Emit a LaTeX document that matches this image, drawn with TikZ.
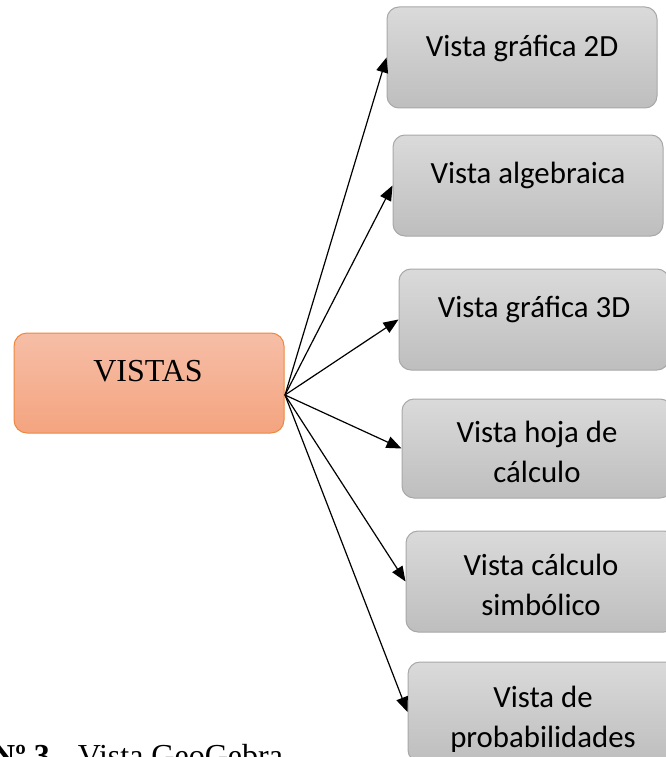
\documentclass[tikz,border=0pt]{standalone}
\usepackage{fontspec}
\setmainfont{Liberation Serif}
\newfontfamily\calib{Carlito}
\usetikzlibrary{arrows.meta}
\definecolor{orTop}{HTML}{F6BEA7}
\definecolor{orBot}{HTML}{F4A47F}
\definecolor{orLine}{HTML}{EE8840}
\definecolor{gTop}{HTML}{DADADA}
\definecolor{gBot}{HTML}{BEBEBE}
\definecolor{gLine}{HTML}{A8A8A8}
\tikzset{
  vbox/.style={draw=orLine, line width=1pt, rounded corners=13pt, top color=orTop, bottom color=orBot,
    minimum width=270pt, minimum height=100pt, inner sep=0pt},
  gbox/.style={draw=gLine, line width=1pt, rounded corners=12pt, top color=gTop, bottom color=gBot,
    minimum width=270pt, minimum height=101pt, inner sep=0pt},
  vtext/.style={anchor=base, inner sep=0pt, font=\fontsize{32}{36}\selectfont},
  gtext/.style={anchor=base, inner sep=0pt, align=center, font=\calib\fontsize{30.8}{39.5}\selectfont},
  conn/.style={line width=1.2pt, -{Triangle[length=15pt,width=12pt]}},
}
\begin{document}
\begin{tikzpicture}[x=1pt,y=-1pt]
\useasboundingbox (0,0) rectangle (666,757);
\clip (0,0) rectangle (666,757);
\fill[white] (0,0) rectangle (666,757);
% central node
\node[vbox] (vistas) at (149,383) {};
\node[vtext] (tv) at (148,381) {VISTAS};
% view boxes
\node[gbox] (b1) at (522,57.5) {};
\node[gbox] (b2) at (528,185.5) {};
\node[gbox] (b3) at (534,319.5) {};
\node[gbox, minimum height=99pt] (b4) at (537,448.5) {};
\node[gbox] (b5) at (541,581.5) {};
\node[gbox, minimum height=100pt] (b6) at (543,712) {};
\node[gtext] (t1) at (522,57) {Vista gráfica 2D};
\node[gtext] (t2) at (528,183) {Vista algebraica};
\node[gtext] (t3) at (534,317) {Vista gráfica 3D};
\node[gtext] (t4) at (537,482) {Vista hoja de\\cálculo};
\node[gtext] (t5) at (541,615) {Vista cálculo\\simbólico};
\node[gtext] (t6) at (543,747) {Vista de\\probabilidades};
% connectors
\coordinate (o) at (285,395);
\foreach \b in {b1,b2,b3,b4,b5,b6} \draw[conn] (o) -- (\b.west);
% caption
\node[anchor=base west, inner sep=0pt, font=\fontsize{32}{38}\selectfont] (cap) at (-8,766)
  {\textbf{Nº 3.}\hspace{20pt}Vista GeoGebra};
\end{tikzpicture}
\end{document}
